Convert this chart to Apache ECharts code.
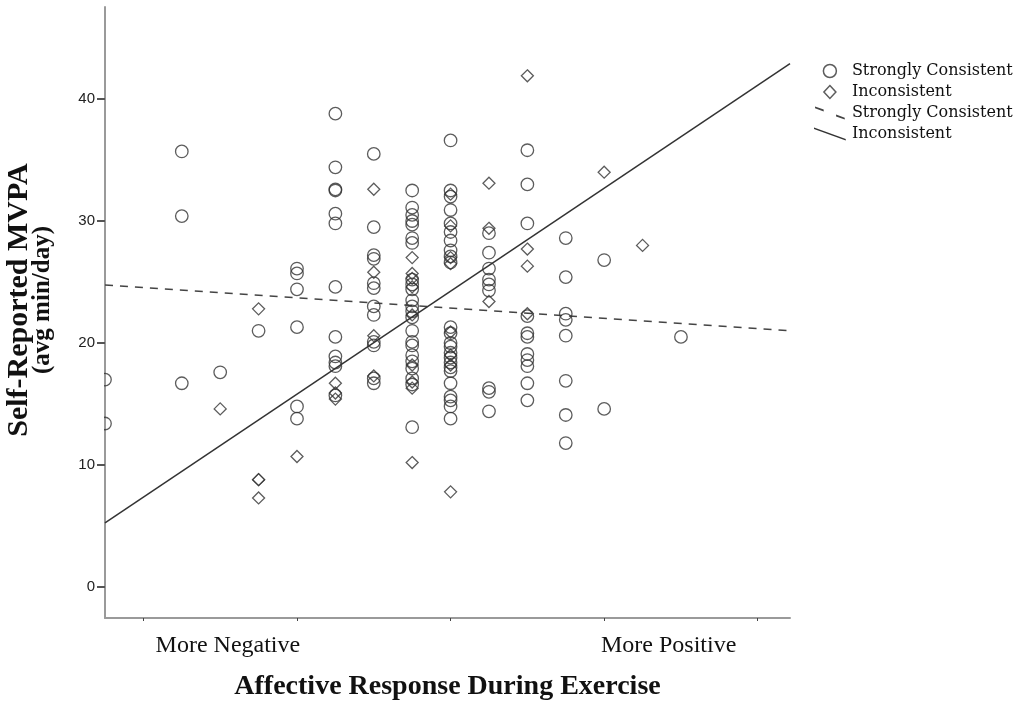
<!DOCTYPE html>
<html>
<head>
<meta charset="utf-8">
<script src="https://cdn.jsdelivr.net/npm/echarts@6/dist/echarts.min.js"></script>
<style>html,body{margin:0;padding:0;background:#fff}#c{width:1021px;height:702px}</style>
</head>
<body>
<div id="c"></div>
<script>
// ---- data ----
var seriesNames = ['Strongly Consistent', 'Inconsistent'];
var strongPoints = [
  [-4.5,17.0],[-4.5,13.4],
  [-3.5,35.7],[-3.5,30.4],[-3.5,16.7],
  [-3.0,17.6],
  [-2.5,21.0],
  [-2.0,26.1],[-2.0,25.7],[-2.0,24.4],[-2.0,21.3],[-2.0,14.8],[-2.0,13.8],
  [-1.5,38.8],[-1.5,34.4],[-1.5,32.6],[-1.5,32.5],[-1.5,30.6],[-1.5,29.8],[-1.5,24.6],[-1.5,20.5],[-1.5,18.9],[-1.5,18.4],[-1.5,18.1],[-1.5,15.7],
  [-1.0,35.5],[-1.0,29.5],[-1.0,27.2],[-1.0,26.9],[-1.0,24.9],[-1.0,24.5],[-1.0,23.0],[-1.0,22.3],[-1.0,20.1],[-1.0,19.8],[-1.0,17.1],[-1.0,16.7],
  [-0.5,32.5],[-0.5,31.1],[-0.5,30.5],[-0.5,30.0],[-0.5,29.7],[-0.5,28.6],[-0.5,28.2],[-0.5,25.2],[-0.5,24.8],[-0.5,24.4],[-0.5,23.5],[-0.5,23.0],[-0.5,22.6],[-0.5,22.1],[-0.5,21.0],[-0.5,20.1],[-0.5,19.8],[-0.5,19.0],[-0.5,18.5],[-0.5,17.9],[-0.5,17.1],[-0.5,16.6],[-0.5,13.1],
  [0,36.6],[0,32.5],[0,32.0],[0,30.9],[0,29.8],[0,29.1],[0,28.4],[0,27.6],[0,27.1],[0,26.6],[0,21.3],[0,20.8],[0,20.0],[0,19.7],[0,19.2],[0,18.8],[0,18.4],[0,18.0],[0,17.7],[0,16.7],[0,15.6],[0,15.3],[0,14.8],[0,13.8],
  [0.5,29.0],[0.5,27.4],[0.5,26.1],[0.5,25.2],[0.5,24.8],[0.5,24.3],[0.5,16.3],[0.5,16.0],[0.5,14.4],
  [1.0,35.8],[1.0,33.0],[1.0,29.8],[1.0,22.2],[1.0,20.8],[1.0,20.5],[1.0,19.1],[1.0,18.6],[1.0,18.1],[1.0,16.7],[1.0,15.3],
  [1.5,28.6],[1.5,25.4],[1.5,22.4],[1.5,21.9],[1.5,20.6],[1.5,16.9],[1.5,14.1],[1.5,11.8],
  [2.0,26.8],[2.0,14.6],
  [3.0,20.5]
];
var inconsistentPoints = [
  [-3.0,14.6],
  [-2.5,22.8],[-2.5,8.8],[-2.5,8.8],[-2.5,7.3],
  [-2.0,10.7],
  [-1.5,16.7],[-1.5,15.9],[-1.5,15.4],
  [-1.0,32.6],[-1.0,25.8],[-1.0,20.6],[-1.0,17.3],
  [-0.5,27.0],[-0.5,25.7],[-0.5,25.3],[-0.5,24.6],[-0.5,22.3],[-0.5,18.2],[-0.5,16.8],[-0.5,16.3],[-0.5,10.2],
  [0,32.2],[0,29.6],[0,27.0],[0,26.5],[0,20.9],[0,19.0],[0,18.2],[0,7.8],
  [0.5,33.1],[0.5,29.4],[0.5,23.4],
  [1.0,41.9],[1.0,27.7],[1.0,26.3],[1.0,22.4],
  [2.0,34.0],
  [2.5,28.0]
];
// fit lines: [x, y] at the two ends of the x range
var strongFit = [[-4.5,24.75],[4.42,21.0]];
var inconsistentFit = [[-4.5,5.25],[4.42,42.9]];
var xRange = [-4.5, 4.42];
var yRange = [-2.54, 47.54];
var xTickValues = [-4, -2, 0, 2, 4];
var yTickValues = [0, 10, 20, 30, 40];
var xEndLabels = ['More Negative', 'More Positive'];
var xEndLabelPos = [-2.9, 2.84];
var xTitle = 'Affective Response During Exercise';
var yTitle = ['Self-Reported MVPA', '(avg min/day)'];

// ---- chart ----
var chart = echarts.init(document.getElementById('c'), null, {renderer: 'canvas'});
var ink = '#333';
var serif = '"Liberation Serif", "Times New Roman", serif';
var legendFont = '"DejaVu Serif", serif';
var hollow = {color: 'rgba(255,255,255,0)', borderColor: ink, borderWidth: 1.3};
var diamondIcon = 'path://M6,0 L12,6.5 L6,13 L0,6.5 Z';
var dashIcon = 'path://M0,0 L7,2.5 L7,4 L0,1.5 Z M17,6.5 L24,9 L24,10.5 L17,8 Z';
var solidIcon = 'path://M0,0 L33,12 L33,13.5 L0,1.5 Z';

var option = {
  animation: false,
  backgroundColor: '#fff',
  grid: {left: 105, right: 231, top: 7, bottom: 84, containLabel: false, outerBoundsMode: 'none'},
  legend: {
    orient: 'vertical', left: 809, top: 58, itemGap: 5, itemWidth: 34, itemHeight: 13,
    symbolKeepAspect: true,
    textStyle: {fontFamily: legendFont, fontSize: 16, color: '#111'},
    data: [
      {name: seriesNames[0], icon: 'circle', itemStyle: {borderWidth: 1.5}},
      {name: seriesNames[1], icon: diamondIcon, itemStyle: {borderWidth: 1.5}},
      {name: seriesNames[0] + ' ', icon: dashIcon, itemStyle: {color: '#444'}},
      {name: seriesNames[1] + ' ', icon: solidIcon, itemStyle: {color: '#333'}}
    ]
  },
  xAxis: {
    type: 'value', min: xRange[0], max: xRange[1],
    axisLine: {show: true, onZero: false, lineStyle: {color: '#9a9a9a', width: 2}},
    axisTick: {show: true, length: 3, customValues: xTickValues, lineStyle: {color: '#444', width: 1}},
    axisLabel: {show: true, customValues: xEndLabelPos, margin: 16,
      formatter: function (v) { var i = xEndLabelPos.indexOf(v); return i >= 0 ? xEndLabels[i] : ''; },
      fontFamily: serif, fontSize: 24, color: '#111'},
    splitLine: {show: false},
    name: xTitle, nameLocation: 'middle', nameGap: 55,
    nameTextStyle: {fontFamily: serif, fontSize: 28, fontWeight: 'bold', color: '#111'}
  },
  yAxis: {
    type: 'value', min: yRange[0], max: yRange[1],
    axisLine: {show: true, onZero: false, lineStyle: {color: '#9a9a9a', width: 2}},
    axisTick: {show: true, length: 8, customValues: yTickValues, lineStyle: {color: '#555', width: 2}},
    axisLabel: {customValues: yTickValues, margin: 10, fontFamily: '"Liberation Sans", Arial, sans-serif', fontSize: 15, color: '#222'},
    splitLine: {show: false}
  },
  graphic: [
    {type: 'rect', z: 100, shape: {x: 92, y: 368, width: 12, height: 66}, style: {fill: '#fff'}},
    {type: 'text', z: 100, x: 19, y: 300, rotation: Math.PI / 2,
      style: {text: yTitle[0], font: 'bold 30px ' + serif, fill: '#111', align: 'center', verticalAlign: 'middle'}},
    {type: 'text', z: 100, x: 43, y: 300, rotation: Math.PI / 2,
      style: {text: yTitle[1], font: 'bold 25px ' + serif, fill: '#111', align: 'center', verticalAlign: 'middle'}}
  ],
  series: [
    {name: seriesNames[0], type: 'scatter', data: strongPoints, symbol: 'circle', symbolSize: 12.5,
      itemStyle: hollow, z: 3},
    {name: seriesNames[1], type: 'scatter', data: inconsistentPoints, symbol: 'diamond', symbolSize: 12,
      itemStyle: hollow, z: 3},
    {name: seriesNames[0] + ' ', type: 'line', data: strongFit, symbol: 'none', z: 2,
      lineStyle: {color: '#444', width: 1.5, type: [8, 7]}, itemStyle: {color: '#444'}},
    {name: seriesNames[1] + ' ', type: 'line', data: inconsistentFit, symbol: 'none', z: 2,
      lineStyle: {color: '#333', width: 1.5, type: 'solid'}, itemStyle: {color: '#333'}}
  ]
};
chart.setOption(option);
</script>
</body>
</html>
